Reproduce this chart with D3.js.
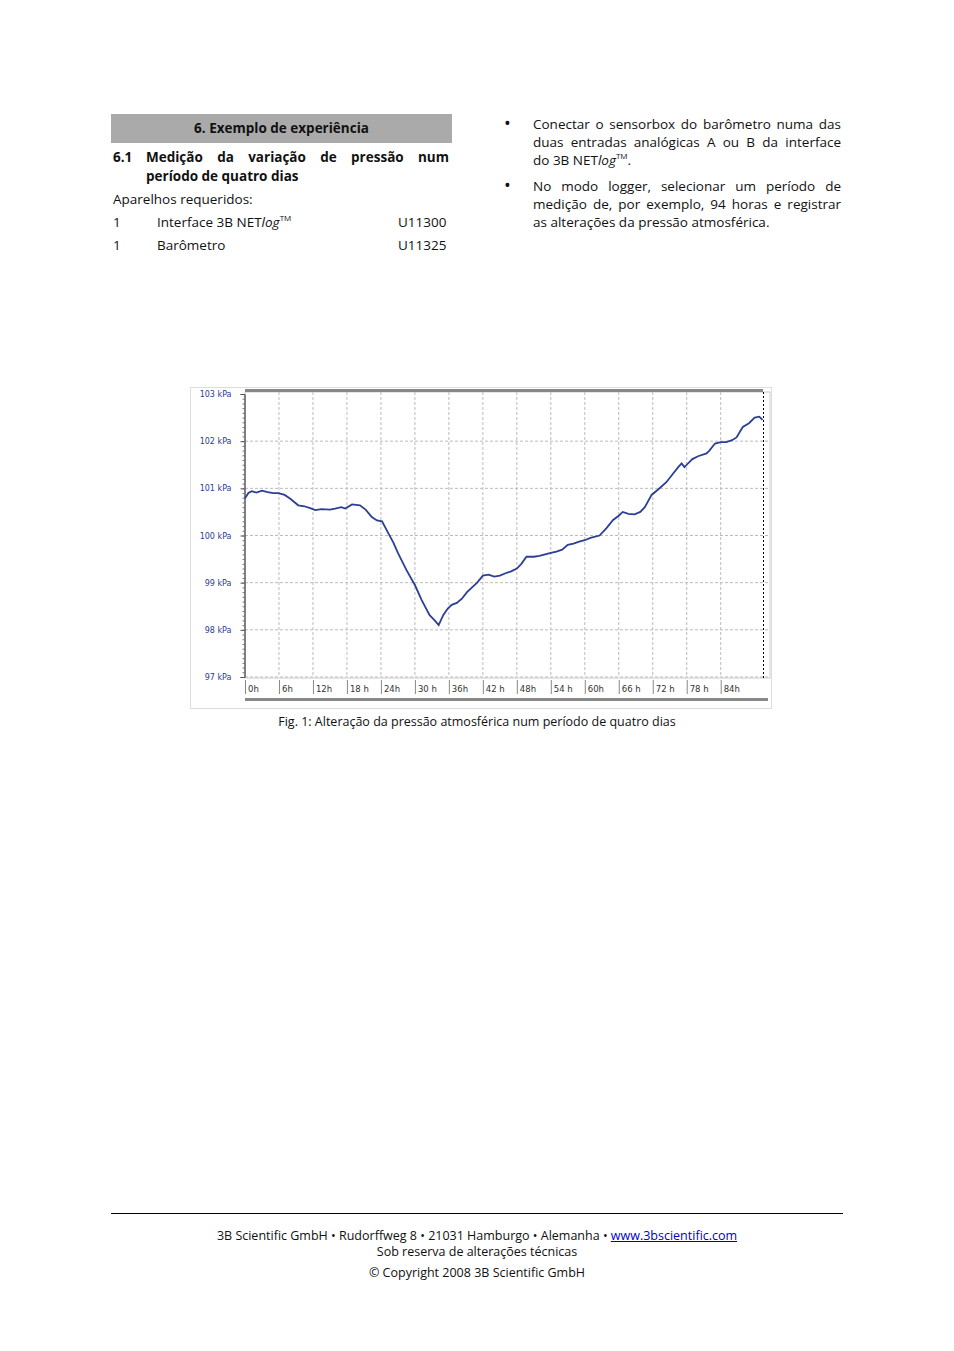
<!DOCTYPE html>
<html><head><meta charset="utf-8">
<script src="https://cdn.jsdelivr.net/npm/d3@7"></script>
<style>
body{margin:0;background:#fff;font-family:"Open Sans",sans-serif;color:#111}
.t{position:absolute;font-size:13.5px;line-height:18px;white-space:nowrap}
.j{position:absolute;font-size:13.5px;line-height:18px;text-align:justify;text-align-last:justify}
sup{font-size:8px;line-height:0;vertical-align:6px}
.b{position:absolute;font-size:18px;line-height:18px}
a{color:#00c}
</style></head><body>
<div style="position:absolute;left:111px;top:114px;width:341px;height:29px;background:#aaa"></div>
<div class="t" style="left:111px;width:341px;top:119px;text-align:center;font-weight:bold">6. Exemplo de experiência</div>
<div class="t" style="left:113px;top:148px;font-weight:bold">6.1</div>
<div class="j" style="left:146px;top:148px;width:303px;font-weight:bold">Medição da variação de pressão num</div>
<div class="t" style="left:146px;top:167px;font-weight:bold">período de quatro dias</div>
<div class="t" style="left:113px;top:190px">Aparelhos requeridos:</div>
<div class="t" style="left:113px;top:213px">1</div><div class="t" style="left:157px;top:213px">Interface 3B NET<i>log</i><sup>TM</sup></div><div class="t" style="left:398px;top:213px">U11300</div>
<div class="t" style="left:113px;top:236px">1</div><div class="t" style="left:157px;top:236px">Barômetro</div><div class="t" style="left:398px;top:236px">U11325</div>
<div class="b" style="left:504px;top:114px">•</div>
<div class="j" style="left:533px;top:115px;width:308px">Conectar o sensorbox do barômetro numa das</div>
<div class="j" style="left:533px;top:133px;width:308px">duas entradas analógicas A ou B da interface</div>
<div class="t" style="left:533px;top:151px">do 3B NET<i>log</i><sup>TM</sup>.</div>
<div class="b" style="left:504px;top:176px">•</div>
<div class="j" style="left:533px;top:177px;width:308px">No modo logger, selecionar um período de</div>
<div class="j" style="left:533px;top:195px;width:308px">medição de, por exemplo, 94 horas e registrar</div>
<div class="t" style="left:533px;top:213px">as alterações da pressão atmosférica.</div>
<div class="t" style="left:0;width:954px;top:713px;text-align:center;font-size:12.5px">Fig. 1: Alteração da pressão atmosférica num período de quatro dias</div>
<div style="position:absolute;left:111px;top:1213px;width:732px;border-top:1px solid #000"></div>
<div class="t" style="left:0;width:954px;top:1227px;text-align:center;font-size:12.5px">3B Scientific GmbH • Rudorffweg 8 • 21031 Hamburgo • Alemanha • <a href="#">www.3bscientific.com</a></div>
<div class="t" style="left:0;width:954px;top:1243px;text-align:center;font-size:12.5px">Sob reserva de alterações técnicas</div>
<div class="t" style="left:0;width:954px;top:1264px;text-align:center;font-size:12.5px">© Copyright 2008 3B Scientific GmbH</div>
<svg id="c" width="954" height="1351" style="position:absolute;left:0;top:0"></svg>
<script>
const hours=[0,0.6,1.2,2,3,4,5,5.9,7,8,9.4,10.5,11.5,12.4,13.5,15,15.9,17,17.7,18.9,19.6,20.3,21.3,22.4,23.3,24.2,25.3,26.2,27,28.5,29.3,30,31.2,32.6,33.5,34.2,35,35.8,36.5,37.4,38.3,39.2,40,41,42,43,44,45,46,47,48,48.8,49.7,51,52,53,54,55,56,57,58,59,60,61,62.6,63.8,65,66,66.7,67.7,68.8,69.8,70.6,71.8,73,74.4,75.5,76.5,77.1,77.6,78,79,80,81.5,82,83,84,85,86,86.8,87.9,89,90,90.8,91.4];
const kpa=[100.79,100.9,100.94,100.91,100.95,100.92,100.9,100.9,100.86,100.78,100.64,100.62,100.58,100.54,100.56,100.55,100.57,100.6,100.57,100.66,100.65,100.64,100.55,100.39,100.32,100.3,100.05,99.85,99.63,99.27,99.1,98.95,98.63,98.31,98.2,98.1,98.31,98.45,98.53,98.57,98.66,98.8,98.89,99.0,99.15,99.17,99.13,99.15,99.2,99.24,99.3,99.4,99.55,99.55,99.57,99.6,99.63,99.66,99.7,99.8,99.83,99.87,99.9,99.95,100.0,100.15,100.33,100.42,100.5,100.46,100.45,100.5,100.6,100.86,100.98,101.13,101.3,101.45,101.53,101.45,101.5,101.62,101.68,101.74,101.8,101.95,101.98,101.98,102.02,102.08,102.3,102.38,102.5,102.52,102.45];
const yTicks=[97,98,99,100,101,102,103];
const xTicks=[0,6,12,18,24,30,36,42,48,54,60,66,72,78,84];
const svg=d3.select("#c");
const x=d3.scaleLinear().domain([0,92]).range([245,766]);
const y=d3.scaleLinear().domain([97,103]).range([677,394]);
svg.append("rect").attr("x",190.5).attr("y",387.5).attr("width",581).attr("height",321).attr("fill","#fff").attr("stroke","#ddd");
svg.append("rect").attr("x",245).attr("y",392).attr("width",525).attr("height",286).attr("fill","#fff").attr("stroke","#ccc");
const g=svg.append("g");
g.selectAll(".vx").data(xTicks.slice(1)).join("line").attr("x1",d=>x(d)).attr("x2",d=>x(d)).attr("y1",392).attr("y2",677).attr("stroke","#bbb").attr("stroke-dasharray","3,2");
g.selectAll(".hy").data(yTicks.slice(0,-1)).join("line").attr("x1",245).attr("x2",770).attr("y1",d=>y(d)).attr("y2",d=>y(d)).attr("stroke","#bbb").attr("stroke-dasharray","3,2");
svg.append("rect").attr("x",245).attr("y",389).attr("width",518).attr("height",3).attr("fill","#888");
svg.append("rect").attr("x",245).attr("y",698).attr("width",523).attr("height",3).attr("fill","#888");
svg.append("line").attr("x1",763.5).attr("x2",763.5).attr("y1",392).attr("y2",680).attr("stroke","#000").attr("stroke-dasharray","2,2");
const ya=svg.append("g").attr("transform","translate(244.5,0)").call(d3.axisLeft(y).tickValues(d3.range(97,103.01,0.1)).tickSize(2).tickFormat(""));
ya.selectAll("path,line").attr("stroke","#777");
ya.append("g").call(d3.axisLeft(y).tickValues(yTicks).tickSize(4).tickFormat(d=>d+" kPa")).selectAll("line,path").attr("stroke","#555");
ya.selectAll("text").attr("fill","#2b3d8f").attr("font-family","DejaVu Sans").attr("font-size","8px").attr("dx","-6");
const xa=svg.append("g");
xa.selectAll("line").data(xTicks).join("line").attr("x1",d=>x(d)+0.5).attr("x2",d=>x(d)+0.5).attr("y1",680).attr("y2",694).attr("stroke","#888");
xa.selectAll("text").data(xTicks).join("text").attr("x",d=>x(d)+3).attr("y",692).text(d=>d+(d%12==0&&d<48?"h":(d>=12&&d!=36&&d!=60&&d!=84&&d!=48?" h":"h"))).attr("fill","#333").attr("font-family","DejaVu Sans").attr("font-size","8.5px");
const line=d3.line().x((d,i)=>x(hours[i])).y((d,i)=>y(kpa[i]));
svg.append("path").datum(kpa).attr("d",line).attr("fill","none").attr("stroke","#2b3f95").attr("stroke-width",1.8);
</script></body></html>
